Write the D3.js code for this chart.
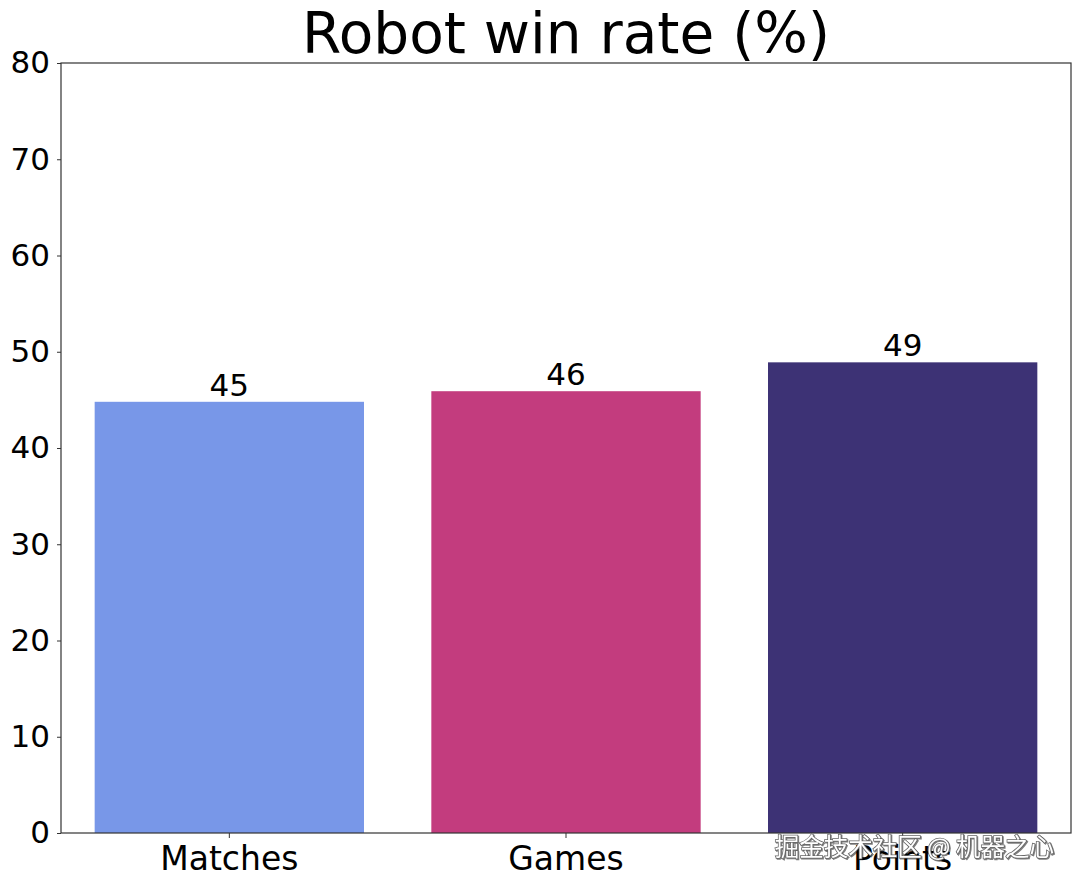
<!DOCTYPE html>
<html>
<head>
<meta charset="utf-8">
<script src="https://cdn.jsdelivr.net/npm/d3@7"></script>
<style>
  html, body { margin: 0; padding: 0; background: #fff; }
  svg { display: block; }
</style>
</head>
<body>
<svg id="chart" width="1080" height="885"></svg>
<script>
const categories = ["Matches", "Games", "Points"];
const values = [44.8, 45.9, 48.9];
const barColors = ["#7897e8", "#c33c7e", "#3d3275"];
const yTicks = [0, 10, 20, 30, 40, 50, 60, 70, 80];
const titleText = "Robot win rate (%)";
const watermarkText = "掘金技术社区 @ 机器之心";

const W = 1080, H = 885;
const margin = { left: 61, right: 9, top: 63, bottom: 52 };
const svg = d3.select("#chart");
const font = "DejaVu Sans, Liberation Sans, sans-serif";

const x = d3.scaleBand()
  .domain(categories)
  .range([margin.left, W - margin.right])
  .paddingInner(0.2)
  .paddingOuter(0.1);

const y = d3.scaleLinear()
  .domain([0, 80])
  .range([H - margin.bottom, margin.top]);

// bars
svg.append("g").selectAll("rect")
  .data(categories)
  .join("rect")
  .attr("x", d => x(d))
  .attr("width", x.bandwidth())
  .attr("y", (d, i) => y(values[i]))
  .attr("height", (d, i) => y(0) - y(values[i]))
  .attr("fill", (d, i) => barColors[i]);

// value labels
svg.append("g").selectAll("text")
  .data(categories)
  .join("text")
  .attr("x", d => x(d) + x.bandwidth() / 2)
  .attr("y", (d, i) => y(values[i]) - 6)
  .attr("text-anchor", "middle")
  .attr("font-family", font)
  .attr("font-size", 31)
  .attr("fill", "#000")
  .text((d, i) => d3.format(".0f")(values[i]));

// axes
const yAxis = d3.axisLeft(y).tickValues(yTicks).tickSize(4).tickPadding(7);
const gy = svg.append("g")
  .attr("transform", `translate(${margin.left},0)`)
  .call(yAxis);
gy.selectAll("text").attr("font-family", font).attr("font-size", 31).attr("fill", "#000");
gy.select(".domain").remove();
gy.selectAll("line").attr("stroke", "#333");

const xAxis = d3.axisBottom(x).tickSize(5).tickPadding(9);
const gx = svg.append("g")
  .attr("transform", `translate(0,${H - margin.bottom})`)
  .call(xAxis);
gx.selectAll("text").attr("font-family", font).attr("font-size", 33).attr("fill", "#000");
gx.select(".domain").remove();
gx.selectAll("line").attr("stroke", "#333");

// frame
svg.append("rect")
  .attr("x", margin.left)
  .attr("y", margin.top)
  .attr("width", W - margin.left - margin.right)
  .attr("height", H - margin.top - margin.bottom)
  .attr("fill", "none")
  .attr("stroke", "#333")
  .attr("stroke-width", 1.2);

// title
svg.append("text")
  .attr("x", (margin.left + W - margin.right) / 2)
  .attr("y", 53)
  .attr("text-anchor", "middle")
  .attr("font-family", font)
  .attr("font-size", 56.5)
  .attr("fill", "#000")
  .text(titleText);

// watermark
svg.append("text")
  .attr("x", 1054)
  .attr("y", 856)
  .attr("text-anchor", "end")
  .attr("font-family", "Noto Sans CJK SC, sans-serif")
  .attr("font-size", 24.5)
  .attr("fill", "#fff")
  .attr("stroke", "#666")
  .attr("stroke-width", 1.6)
  .attr("paint-order", "stroke")
  .style("filter", "drop-shadow(1px 1px 0.5px rgba(0,0,0,0.5))")
  .text(watermarkText);
</script>
</body>
</html>
